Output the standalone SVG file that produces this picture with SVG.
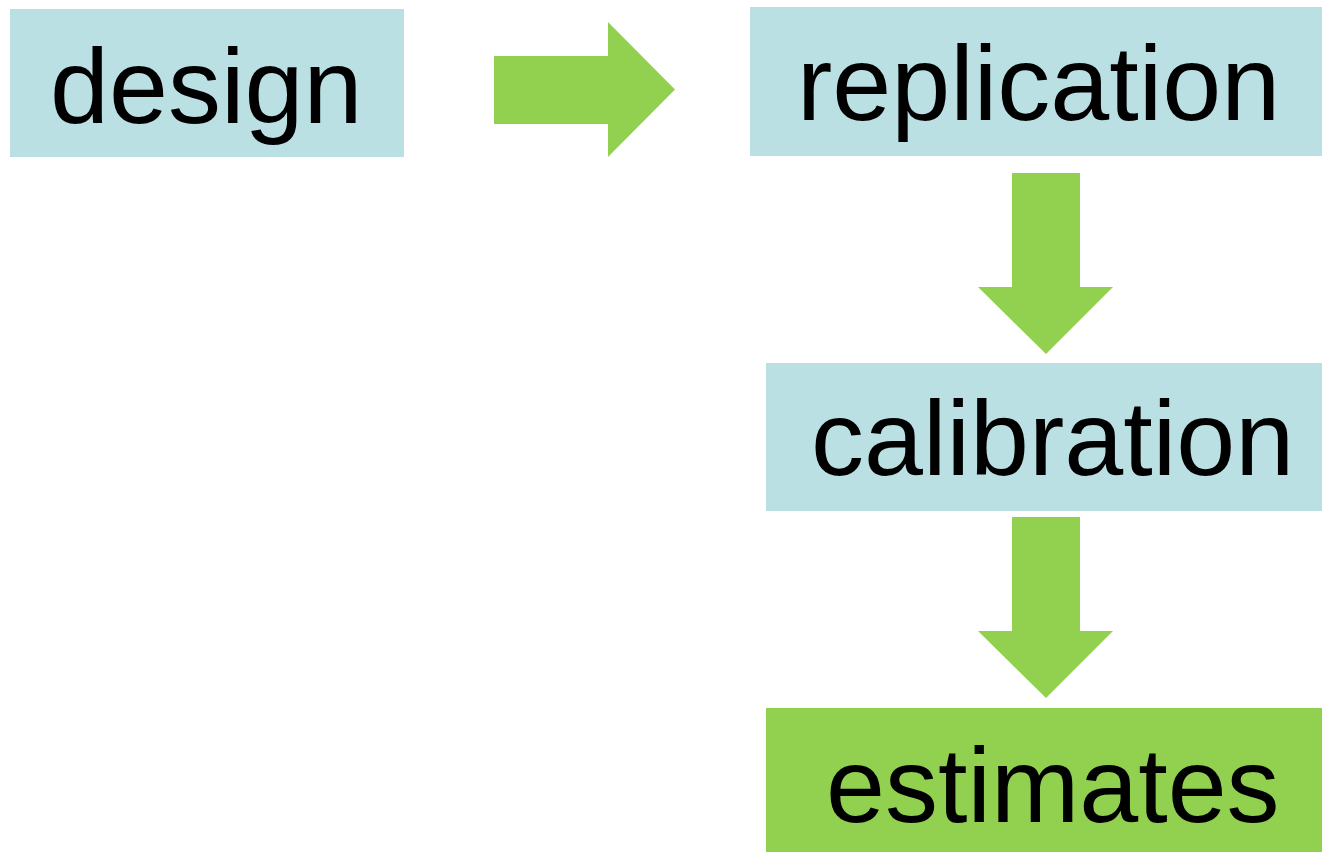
<svg xmlns="http://www.w3.org/2000/svg" width="1322" height="852" viewBox="0 0 1322 852">
<style>
.box{fill:#BBE0E3}
.res{fill:#92D050}
.arr{fill:#92D050}
.lbl{font-family:"Liberation Sans",Arial,sans-serif;font-size:106px;fill:#000}
</style>
<rect width="1322" height="852" fill="#fff"/>
<g id="design"><rect class="box" x="10" y="9" width="394" height="148"/><text class="lbl" x="50" y="123">design</text></g>
<g id="replication"><rect class="box" x="750" y="7" width="572" height="149"/><text class="lbl" x="797" y="120">replication</text></g>
<g id="calibration"><rect class="box" x="766" y="363" width="556" height="148"/><text class="lbl" x="811" y="475">calibration</text></g>
<g id="estimates"><rect class="res" x="766" y="708" width="556" height="144"/><text class="lbl" x="826" y="822">estimates</text></g>
<g id="connectors">
<polygon class="arr" points="494,56 608,56 608,22 675,89.5 608,157 608,124 494,124"/>
<polygon class="arr" points="1012,173 1080,173 1080,287 1113,287 1046,354 978,287 1012,287"/>
<polygon class="arr" points="1012,517 1080,517 1080,631 1113,631 1046,698 978,631 1012,631"/>
</g>
</svg>
